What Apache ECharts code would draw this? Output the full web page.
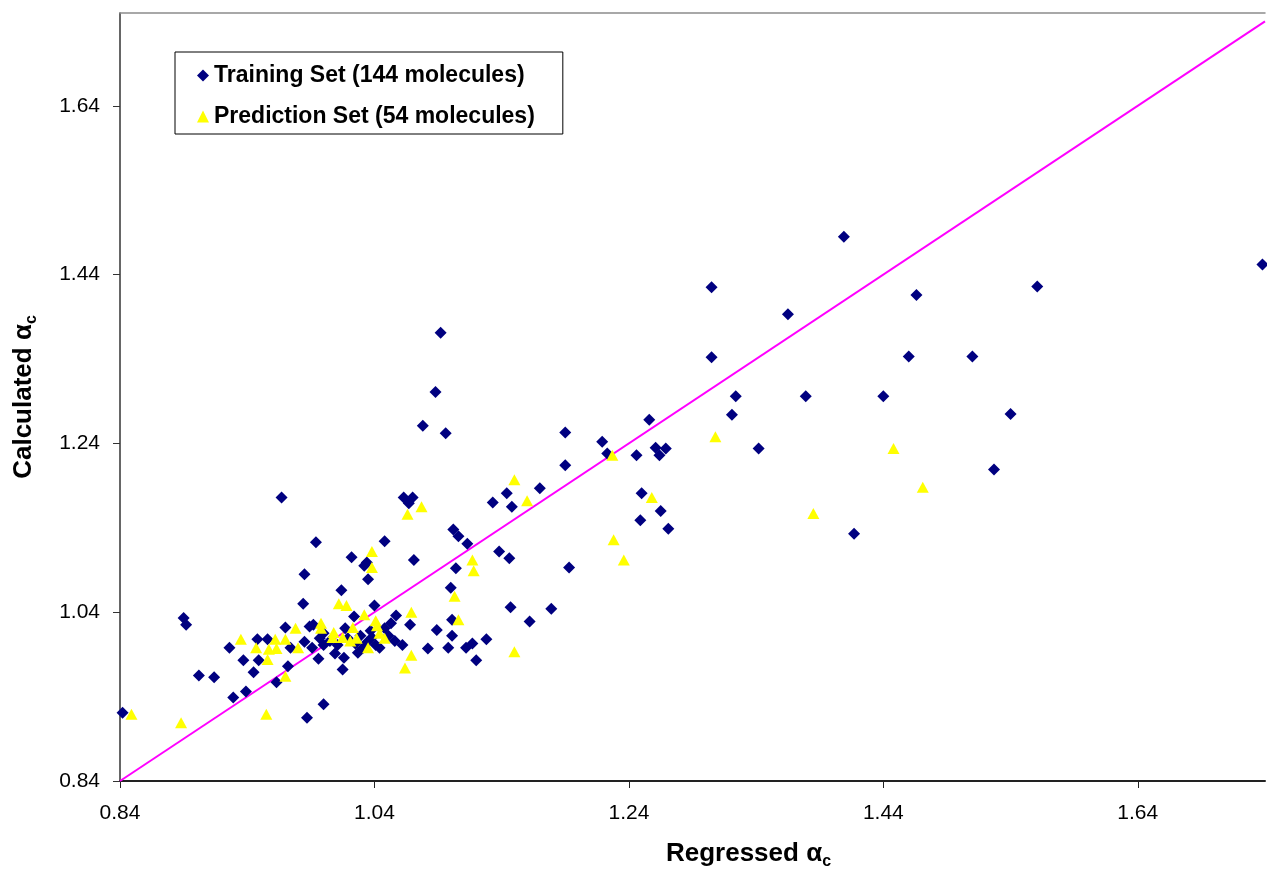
<!DOCTYPE html>
<html>
<head>
<meta charset="utf-8">
<title>Calculated vs Regressed αc</title>
<script src="https://cdn.jsdelivr.net/npm/echarts@6/dist/echarts.min.js"></script>
<style>
  html, body { margin: 0; padding: 0; background: #fff; }
  #chart { width: 1267px; height: 878px; }
</style>
</head>
<body>
<div id="chart"></div>
<script>
// training set (navy diamonds): regressed / calculated
const trainX = [
  0.842, 0.890, 0.892, 0.902, 0.914, 0.926, 0.929, 0.937, 0.939, 0.945,
  0.948, 0.949, 0.956, 0.963, 0.967, 0.970, 0.972, 0.974, 0.984, 0.985,
  0.985, 0.987, 0.989, 0.991, 0.992, 0.994, 0.996, 1.000, 1.000, 1.000,
  1.009, 1.014, 1.015, 1.016, 1.019, 1.022, 1.024, 1.029, 1.031, 1.032,
  1.034, 1.034, 1.035, 1.038, 1.040, 1.044, 1.048, 1.051, 1.053, 1.057,
  1.062, 1.063, 1.067, 1.068, 1.070, 1.071, 1.078, 1.082, 1.088, 1.089,
  1.092, 1.096, 1.098, 1.100, 1.101, 1.101, 1.102, 1.104, 1.106, 1.112,
  1.113, 1.117, 1.120, 1.128, 1.133, 1.138, 1.144, 1.146, 1.147, 1.148,
  1.162, 1.170, 1.179, 1.190, 1.190, 1.193, 1.219, 1.223, 1.246, 1.249,
  1.250, 1.256, 1.261, 1.264, 1.265, 1.269, 1.271, 1.305, 1.305, 1.321,
  1.324, 1.342, 1.365, 1.379, 1.409, 1.417, 1.440, 1.460, 1.466, 1.510,
  1.527, 1.540, 1.561, 1.738,
  0.997, 1.025, 1.041, 1.005, 1.011, 1.037, 1.048, 1.056, 1.017, 1.027
];
const trainY = [
  0.921, 1.033, 1.025, 0.965, 0.963, 0.998, 0.939, 0.983, 0.946, 0.969,
  1.008, 0.983, 1.008, 0.957, 1.176, 1.022, 0.976, 0.998, 1.050, 1.085,
  1.005, 0.915, 1.023, 0.998, 1.025, 1.123, 0.985, 1.001, 1.015, 0.931,
  0.991, 1.066, 0.972, 0.986, 1.009, 1.105, 1.035, 1.012, 0.998, 1.095,
  1.099, 1.004, 1.079, 1.010, 1.048, 0.998, 1.124, 1.012, 1.027, 1.036,
  1.001, 1.176, 1.169, 1.025, 1.176, 1.102, 1.261, 0.997, 1.301, 1.019,
  1.371, 1.252, 0.998, 1.069, 1.031, 1.012, 1.138, 1.092, 1.130, 0.998,
  1.121, 1.003, 0.983, 1.008, 1.170, 1.112, 1.181, 1.104, 1.046, 1.165,
  1.029, 1.187, 1.044, 1.253, 1.214, 1.093, 1.242, 1.228, 1.226, 1.149,
  1.181, 1.268, 1.235, 1.226, 1.160, 1.234, 1.139, 1.342, 1.425, 1.274,
  1.296, 1.234, 1.393, 1.296, 1.485, 1.133, 1.296, 1.343, 1.416, 1.343,
  1.209, 1.275, 1.426, 1.452,
  1.009, 1.003, 1.001, 1.006, 1.001, 1.018, 1.021, 1.006, 1.021, 0.992
];

// prediction set (yellow triangles)
const predX = [
  0.849, 0.888, 0.935, 0.947, 0.955, 0.956, 0.957, 0.962, 0.963, 0.970,
  0.970, 0.978, 0.980, 0.998, 0.998, 1.007, 1.008, 1.012, 1.015, 1.018,
  1.021, 1.023, 1.026, 1.032, 1.035, 1.038, 1.038, 1.041, 1.042, 1.044,
  1.048, 1.064, 1.066, 1.069, 1.069, 1.077, 1.103, 1.106, 1.117, 1.118,
  1.150, 1.150, 1.160, 1.227, 1.228, 1.236, 1.258, 1.308, 1.385, 1.448,
  1.471
];
const predY = [
  0.919, 0.909, 1.008, 0.998, 0.919, 0.984, 0.996, 1.008, 0.997, 1.008,
  0.964, 1.021, 0.998, 1.027, 1.021, 1.010, 1.016, 1.050, 1.010, 1.048,
  1.006, 1.022, 1.009, 1.037, 0.998, 1.112, 1.093, 1.030, 1.024, 1.015,
  1.009, 0.974, 1.156, 1.040, 0.989, 1.165, 1.059, 1.031, 1.102, 1.089,
  1.197, 0.993, 1.172, 1.226, 1.126, 1.102, 1.176, 1.248, 1.157, 1.234,
  1.188
];

// y = x reference line ends
const identityLine = [0.84, 1.74];

// tick labels
const tickValues = [0.84, 1.04, 1.24, 1.44, 1.64];

const seriesNames = ['Training Set (144 molecules)', 'Prediction Set (54 molecules)'];

const font = '"Liberation Sans", Arial, Helvetica, sans-serif';

const trainData = trainX.map((x, i) => [x, trainY[i]]);
const predData = predX.map((x, i) => [x, predY[i]]);
const lineData = identityLine.map(v => [v, v]);

const nameRich = {
  t: { fontSize: 26, fontWeight: 'bold', fontFamily: font, color: '#000', lineHeight: 32 },
  s: { fontSize: 16, fontWeight: 'bold', fontFamily: font, color: '#000', lineHeight: 14, verticalAlign: 'bottom' }
};

const chart = echarts.init(document.getElementById('chart'), null, { renderer: 'canvas' });

chart.setOption({
  animation: false,
  backgroundColor: '#fff',
  textStyle: { fontFamily: font },
  grid: { left: 120, right: 2, top: 13, bottom: 97, containLabel: false },
  legend: {
    data: seriesNames,
    orient: 'vertical',
    left: 175,
    top: 52,
    backgroundColor: '#fff',
    borderColor: '#000',
    borderWidth: 1,
    borderRadius: 0,
    padding: [12, 28, 6, 22],
    itemGap: 18,
    itemWidth: 12,
    itemHeight: 12,
    textStyle: { fontSize: 23, fontWeight: 'bold', color: '#000', fontFamily: font }
  },
  xAxis: [
    {
      type: 'value',
      min: 0.84,
      max: 1.74,
      position: 'bottom',
      name: '{t|Regressed α}{s|c}',
      nameLocation: 'middle',
      nameGap: 57,
      nameTextStyle: { rich: nameRich, padding: [0, 0, 0, 112] },
      axisLine: { show: true, onZero: false, lineStyle: { color: '#222', width: 2 } },
      axisTick: { show: true, inside: false, length: 7, customValues: tickValues, lineStyle: { color: '#222' } },
      axisLabel: {
        customValues: tickValues,
        margin: 22,
        fontSize: 21,
        color: '#000',
        fontFamily: font,
        formatter: v => v.toFixed(2)
      },
      splitLine: { show: false }
    },
    {
      type: 'value',
      min: 0.84,
      max: 1.74,
      position: 'top',
      axisLine: { show: true, onZero: false, lineStyle: { color: '#8c8c8c', width: 1.5 } },
      axisTick: { show: false },
      axisLabel: { show: false },
      splitLine: { show: false }
    }
  ],
  yAxis: {
    type: 'value',
    min: 0.84,
    max: 1.75,
    name: '{t|Calculated α}{s|c}',
    nameLocation: 'middle',
    nameGap: 80,
    nameTextStyle: { rich: nameRich },
    axisLine: { show: true, onZero: false, lineStyle: { color: '#333', width: 1.5 } },
    axisTick: { show: true, inside: false, length: 7, customValues: tickValues, lineStyle: { color: '#333' } },
    axisLabel: {
      customValues: tickValues,
      margin: 20,
      fontSize: 21,
      color: '#000',
      fontFamily: font,
      formatter: v => v.toFixed(2)
    },
    splitLine: { show: false }
  },
  series: [
    {
      name: 'y = x',
      type: 'line',
      data: lineData,
      symbol: 'none',
      lineStyle: { color: '#FF00FF', width: 2 },
      z: 1,
      silent: true
    },
    {
      name: seriesNames[0],
      type: 'scatter',
      data: trainData,
      symbol: 'diamond',
      symbolSize: 12,
      itemStyle: { color: '#000080', opacity: 1 },
      z: 2
    },
    {
      name: seriesNames[1],
      type: 'scatter',
      data: predData,
      symbol: 'triangle',
      symbolSize: [12, 11],
      itemStyle: { color: '#FFFF00', opacity: 1 },
      z: 3
    }
  ]
});
</script>
</body>
</html>
